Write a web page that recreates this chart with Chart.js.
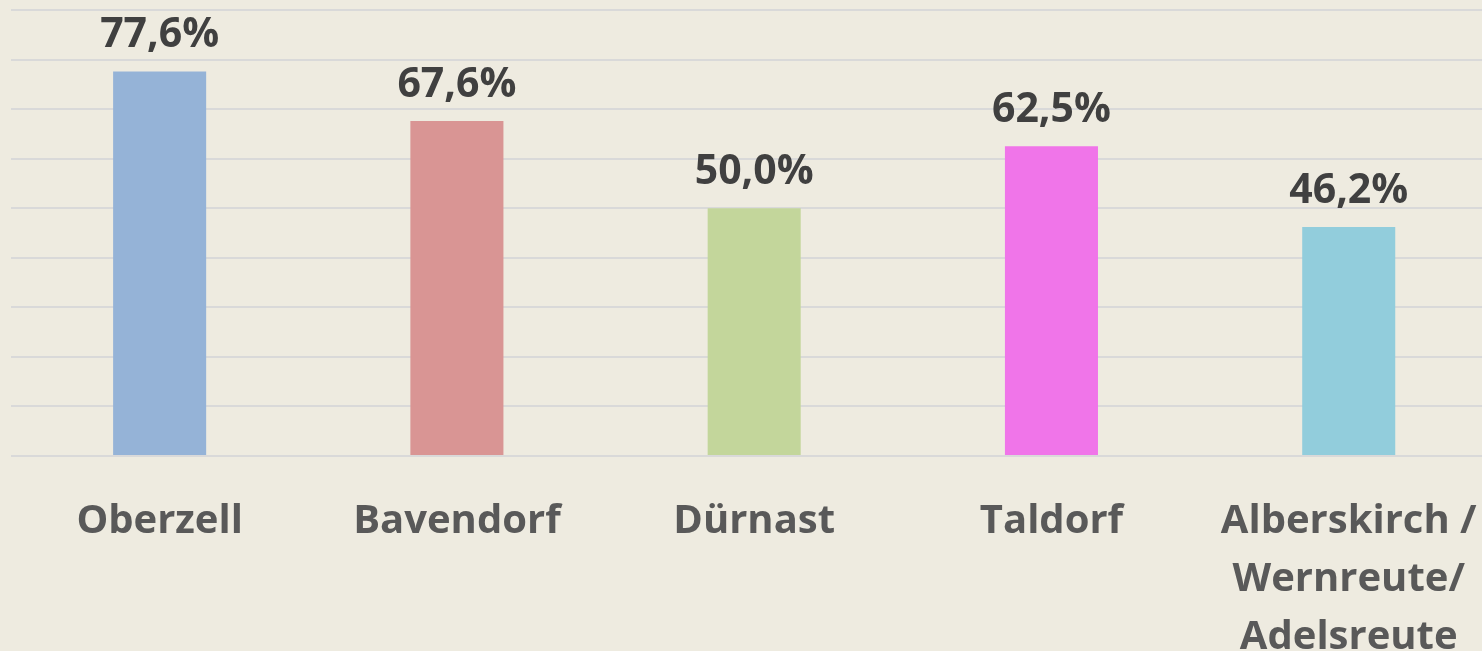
<!DOCTYPE html>
<html>
<head>
<meta charset="utf-8">
<script src="https://cdn.jsdelivr.net/npm/chart.js@4"></script>
<style>
  html, body { margin: 0; padding: 0; background: #EEEBE0; overflow: hidden; }
  #wrap { position: relative; width: 1505px; height: 651px; }
</style>
</head>
<body>
<div id="wrap"><canvas id="chart"></canvas></div>
<script>
// Daten
const orte = ['Oberzell', 'Bavendorf', 'Dürnast', 'Taldorf', ['Alberskirch /', 'Wernreute/', 'Adelsreute']];
const anteile = [77.6, 67.6, 50.0, 62.5, 46.2];
const farben = ['#95B3D7', '#D99594', '#C3D69B', '#F075E9', '#92CDDC'];

// Werte ueber den Balken schreiben
const wertePlugin = {
    id: 'werte',
    afterDatasetsDraw(chart) {
        const ctx = chart.ctx;
        const meta = chart.getDatasetMeta(0);
        ctx.save();
        ctx.font = 'bold 41px "Open Sans"';
        ctx.fillStyle = '#404040';
        ctx.textAlign = 'center';
        ctx.textBaseline = 'alphabetic';
        meta.data.forEach((bar, i) => {
            const txt = anteile[i].toFixed(1).replace('.', ',') + '%';
            ctx.fillText(txt, bar.x, bar.y - 24);
        });
        ctx.restore();
    }
};

const ctx = document.getElementById('chart').getContext('2d');
new Chart(ctx, {
    type: 'bar',
    data: {
        labels: orte,
        datasets: [{
            data: anteile,
            backgroundColor: farben,
            borderWidth: 0,
            barPercentage: 0.313,
            categoryPercentage: 1
        }]
    },
    options: {
        responsive: true,
        maintainAspectRatio: false,
        animation: false,
        layout: { padding: { left: 11, top: 10, right: 4, bottom: 0 } },
        plugins: {
            legend: { display: false },
            tooltip: { enabled: false }
        },
        scales: {
            y: {
                min: 0,
                max: 90,
                ticks: { display: false, stepSize: 10 },
                grid: { color: '#D9D9D9', lineWidth: 2, drawTicks: false },
                border: { display: false }
            },
            x: {
                grid: { display: false },
                border: { display: false },
                ticks: {
                    color: '#595959',
                    font: { family: '"Open Sans"', size: 40, weight: 'bold', lineHeight: 1.46 },
                    padding: 28,
                    maxRotation: 0,
                    autoSkip: false
                },
                afterFit(scale) { scale.height = 195; }
            }
        }
    },
    plugins: [wertePlugin]
});
</script>
</body>
</html>
